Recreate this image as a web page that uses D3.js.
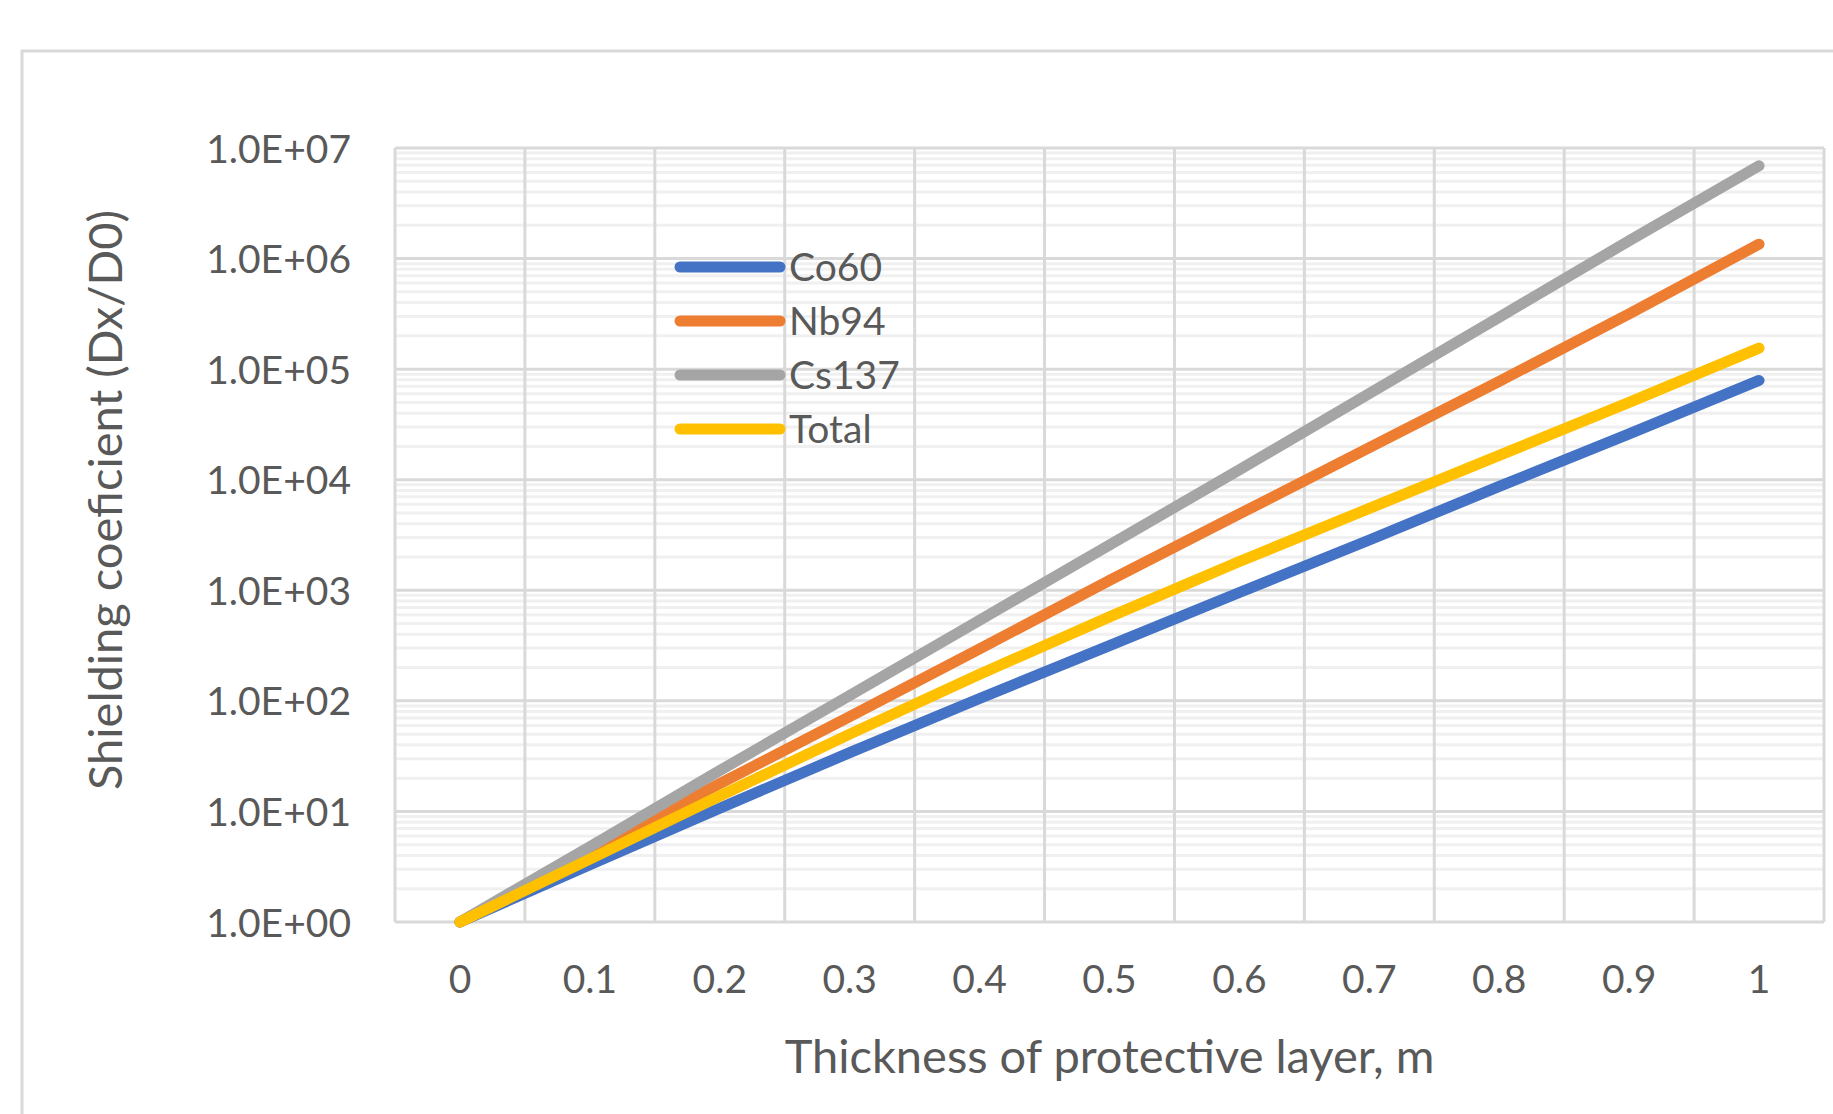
<!DOCTYPE html>
<html>
<head>
<meta charset="utf-8">
<script src="https://cdn.jsdelivr.net/npm/d3@7"></script>
<style>
  body { margin: 0; background: #fff; }
  text { font-family: Lato, "Open Sans", sans-serif; fill: #595959; }
</style>
</head>
<body>
<div id="chart"></div>
<script>
// thickness categories (m)
var categories = ["0", "0.1", "0.2", "0.3", "0.4", "0.5", "0.6", "0.7", "0.8", "0.9", "1"];

// shielding coefficient Dx/D0
var co60  = [1, 3.3, 10.7, 34, 105, 316, 955, 2850, 8700, 26000, 79000];
var nb94  = [1, 4.3, 17.8, 72, 295, 1230, 4900, 19500, 77600, 316000, 1350000];
var cs137 = [1, 4.8, 23.4, 112, 537, 2570, 12300, 60300, 295000, 1450000, 6900000];
var total = [1, 3.7, 13.8, 50, 174, 575, 1820, 5500, 16600, 50000, 155000];

var seriesNames  = ["Co60", "Nb94", "Cs137", "Total"];
var seriesColors = ["#4472C4", "#ED7D31", "#A5A5A5", "#FFC000"];
var seriesValues = [co60, nb94, cs137, total];

var yTicks = [1, 10, 100, 1000, 10000, 100000, 1000000, 10000000];

var W = 1833, H = 1114;
var svg = d3.select("#chart").append("svg")
    .attr("width", W)
    .attr("height", H);

// chart frame (runs off the right / bottom edge in the original)
svg.append("rect")
    .attr("x", 22).attr("y", 51)
    .attr("width", 1900).attr("height", 1200)
    .attr("fill", "#fff")
    .attr("stroke", "#d9d9d9")
    .attr("stroke-width", 3);

var plotL = 395, plotR = 1824, plotT = 148, plotB = 922;

var x = d3.scaleBand().domain(categories).range([plotL, plotR]).padding(0);
var y = d3.scaleLog().domain([1, 1e7]).range([plotB, plotT]);

// minor gridlines 2..9 per decade
var minor = [];
yTicks.slice(0, -1).forEach(function(t){
    for (var k = 2; k <= 9; k++) minor.push(t * k);
});
svg.append("g").selectAll("line")
    .data(minor).enter().append("line")
    .attr("x1", plotL).attr("x2", plotR)
    .attr("y1", function(d){ return y(d); })
    .attr("y2", function(d){ return y(d); })
    .attr("stroke", "#f0f0f0")
    .attr("stroke-width", 3);

// major horizontal gridlines
svg.append("g").selectAll("line")
    .data(yTicks).enter().append("line")
    .attr("x1", plotL).attr("x2", plotR)
    .attr("y1", function(d){ return y(d); })
    .attr("y2", function(d){ return y(d); })
    .attr("stroke", "#d9d9d9")
    .attr("stroke-width", 3);

// vertical gridlines on category boundaries
var bounds = categories.map(function(c){ return x(c); }).concat([plotR]);
svg.append("g").selectAll("line")
    .data(bounds).enter().append("line")
    .attr("x1", function(d){ return d; })
    .attr("x2", function(d){ return d; })
    .attr("y1", plotT).attr("y2", plotB)
    .attr("stroke", "#d9d9d9")
    .attr("stroke-width", 3);

// axes (labels only)
var fmt = function(d){
    var e = Math.round(Math.log10(d));
    return "1.0E+" + (e < 10 ? "0" + e : e);
};
var yAxis = svg.append("g")
    .attr("transform", "translate(" + plotL + ",0)")
    .call(d3.axisLeft(y).tickValues(yTicks).tickFormat(fmt).tickSize(0).tickPadding(44));
yAxis.select(".domain").remove();
yAxis.selectAll("text")
    .attr("dy", "0.36em")
    .style("font-size", "39px")
    .style("font-family", "Lato")
    .attr("fill", "#595959");

var xAxis = svg.append("g")
    .attr("transform", "translate(0," + plotB + ")")
    .call(d3.axisBottom(x).tickSize(0).tickPadding(43));
xAxis.select(".domain").remove();
xAxis.selectAll("text")
    .style("font-size", "39px")
    .style("font-family", "Lato")
    .attr("fill", "#595959");

// axis titles
svg.append("text")
    .attr("x", (plotL + plotR) / 2)
    .attr("y", 1073)
    .attr("text-anchor", "middle")
    .style("font-size", "47px")
    .text("Thickness of protective layer, m");

svg.append("text")
    .attr("transform", "translate(105,500) rotate(-90)")
    .attr("text-anchor", "middle")
    .attr("dy", "0.36em")
    .style("font-size", "47px")
    .text("Shielding coeficient (Dx/D0)");

// series lines
var line = d3.line()
    .x(function(d, i){ return x(categories[i]) + x.bandwidth() / 2; })
    .y(function(d){ return y(d); });

svg.append("g").selectAll("path")
    .data(seriesValues).enter().append("path")
    .attr("d", line)
    .attr("fill", "none")
    .attr("stroke", function(d, i){ return seriesColors[i]; })
    .attr("stroke-width", 11)
    .attr("stroke-linecap", "round")
    .attr("stroke-linejoin", "round");

// legend
var legend = svg.append("g").selectAll("g")
    .data(seriesNames).enter().append("g")
    .attr("transform", function(d, i){ return "translate(680," + (267 + i * 54) + ")"; });
legend.append("line")
    .attr("x1", 0).attr("x2", 100)
    .attr("y1", 0).attr("y2", 0)
    .attr("stroke", function(d, i){ return seriesColors[i]; })
    .attr("stroke-width", 11)
    .attr("stroke-linecap", "round");
legend.append("text")
    .attr("x", 109)
    .attr("dy", "0.36em")
    .style("font-size", "39px")
    .text(function(d){ return d; });
</script>
</body>
</html>
